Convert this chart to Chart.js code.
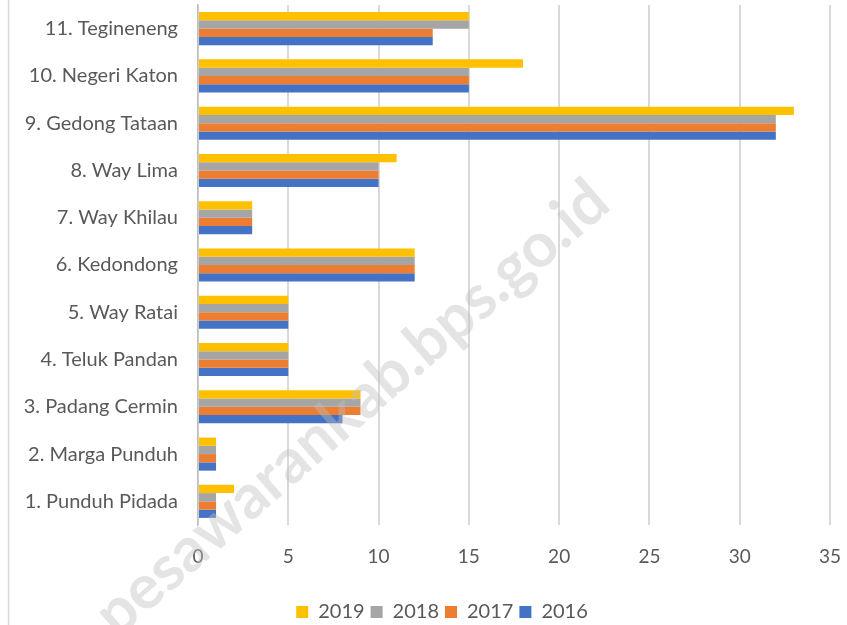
<!DOCTYPE html>
<html>
<head>
<meta charset="utf-8">
<script src="https://cdn.jsdelivr.net/npm/chart.js@4"></script>
<style>
  html, body { margin: 0; padding: 0; background: #fff; }
  #wrap { width: 847px; height: 625px; }
</style>
</head>
<body>
<div id="wrap"><canvas id="barras" width="847" height="625"></canvas></div>
<script>
// Kecamatan (atas ke bawah)
const kecamatan = [
  "11. Tegineneng", "10. Negeri Katon", "9. Gedong Tataan", "8. Way Lima",
  "7. Way Khilau", "6. Kedondong", "5. Way Ratai", "4. Teluk Pandan",
  "3. Padang Cermin", "2. Marga Punduh", "1. Punduh Pidada"
];
const data2019 = [15, 18, 33, 11, 3, 12, 5, 5, 9, 1, 2];
const data2018 = [15, 15, 32, 10, 3, 12, 5, 5, 9, 1, 1];
const data2017 = [13, 15, 32, 10, 3, 12, 5, 5, 9, 1, 1];
const data2016 = [13, 15, 32, 10, 3, 12, 5, 5, 8, 1, 1];
const xTicks = [0, 5, 10, 15, 20, 25, 30, 35];

const fonte = "Lato, 'Open Sans', sans-serif";
const cinza = "#595959";

// bingkai kiri + watermark, dan geser legenda sedikit
const extras = {
  id: "extras",
  afterLayout(chart) {
    const lg = chart.legend;
    if (lg) {
      lg.left += 27;
      lg.right += 27;
      lg.top += 7;
      lg.bottom += 7;
    }
  },
  afterDraw(chart) {
    const ctx = chart.ctx;
    ctx.save();
    ctx.strokeStyle = "#d9d9d9";
    ctx.lineWidth = 1.5;
    ctx.beginPath();
    ctx.moveTo(8.5, 0);
    ctx.lineTo(8.5, 625);
    ctx.stroke();

    ctx.translate(352, 408);
    ctx.rotate(-41 * Math.PI / 180);
    ctx.font = "bold 62px " + fonte;
    ctx.fillStyle = "rgba(190,190,190,0.42)";
    ctx.textAlign = "center";
    ctx.textBaseline = "middle";
    ctx.fillText("pesawarankab.bps.go.id", 0, 0);
    ctx.restore();
  }
};

new Chart(document.getElementById("barras"), {
  type: "bar",
  data: {
    labels: kecamatan,
    datasets: [
      { label: "2019", data: data2019, backgroundColor: "#FFC000" },
      { label: "2018", data: data2018, backgroundColor: "#A5A5A5" },
      { label: "2017", data: data2017, backgroundColor: "#ED7D31" },
      { label: "2016", data: data2016, backgroundColor: "#4472C4" },
    ],
  },
  options: {
    indexAxis: "y",
    responsive: false,
    animation: false,
    datasets: { bar: { categoryPercentage: 0.7, barPercentage: 1.0 } },
    layout: { padding: { top: 5, right: 17, left: 0, bottom: 0 } },
    scales: {
      x: {
        min: 0,
        max: 35,
        afterBuildTicks(scale) {
          scale.ticks = xTicks.map(v => ({ value: v }));
        },
        grid: { color: "#d9d9d9", lineWidth: 2, drawTicks: false },
        border: { display: false },
        ticks: { color: cinza, font: { family: fonte, size: 19 }, padding: 20 },
        afterFit(scale) {
          scale.height = 64;
          scale.paddingLeft = 0;
          scale.paddingRight = 0;
        },
      },
      y: {
        grid: { display: false, drawTicks: false },
        border: { display: true, color: "#bfbfbf", width: 1.5 },
        ticks: { color: cinza, font: { family: fonte, size: 20 }, padding: 20 },
        afterFit(scale) {
          scale.width = 198;
          scale.paddingTop = 0;
          scale.paddingBottom = 0;
        },
      },
    },
    plugins: {
      legend: {
        position: "bottom",
        labels: {
          color: cinza,
          font: { family: fonte, size: 20 },
          boxWidth: 12,
          boxHeight: 12,
          padding: 6,
        },
      },
      tooltip: { enabled: false },
    },
  },
  plugins: [extras],
});
</script>
</body>
</html>
